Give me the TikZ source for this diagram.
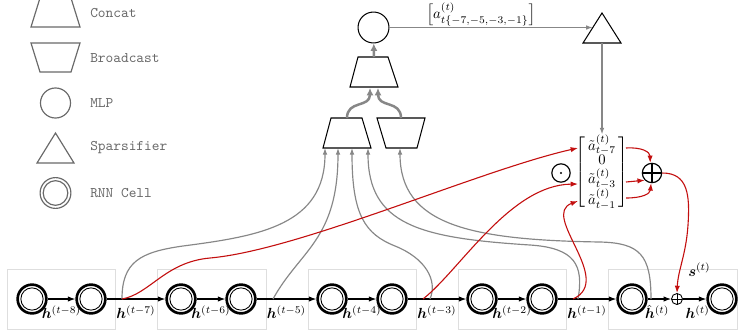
\documentclass[tikz,border=0pt]{standalone}
\usepackage{amsmath,bm,graphicx}
\usetikzlibrary{arrows.meta}
\definecolor{lgray}{RGB}{135,135,135}
\definecolor{leggray}{RGB}{105,105,105}
\definecolor{boxgray}{RGB}{222,222,222}
\definecolor{redc}{RGB}{195,15,15}
\newcommand{\sqbl}{\scalebox{1}[0.82]{$\Big[$}}
\newcommand{\sqbr}{\scalebox{1}[0.82]{$\Big]$}}
\begin{document}
\begin{tikzpicture}[x=0.682pt,y=-0.682pt,
  cell/.style={circle,draw,line width=1.8pt,minimum size=19.6pt,inner sep=0pt,
    path picture={\draw[line width=0.6pt] (path picture bounding box.center) circle (7.6pt);}},
  rowarr/.style={draw,line width=0.7pt,-{Latex[length=5pt,width=3.6pt]}},
  hl/.style={anchor=base,yshift=-13.6pt,inner sep=0pt},
  garr/.style={draw=lgray,line width=0.8pt,-{Latex[length=4.5pt,width=3.2pt]}},
  tharr/.style={draw=lgray,line width=1.7pt,-{Latex[length=5pt,width=4.8pt]}},
  rarr/.style={draw=redc,line width=0.75pt,-{Latex[length=5pt,width=3.6pt]}},
  shp/.style={draw=black,line width=0.7pt},
  leg/.style={draw=leggray,line width=0.8pt},
  legtxt/.style={anchor=west,inner sep=0pt,text=leggray,font=\ttfamily},
  bx/.style={draw=boxgray,line width=0.6pt},
]
\useasboundingbox (0,0) rectangle (738,334);

% ---------------- legend
\draw[leg] (31,27) -- (80,27) -- (71,-2) -- (40,-2) -- cycle;
\node[legtxt] (lconcat) at (90,13) {Concat};
\draw[leg] (31,43) -- (80,43) -- (71,72) -- (40,72) -- cycle;
\node[legtxt] (lbroad) at (90,58) {Broadcast};
\node[leg,circle,minimum size=20.5pt,inner sep=0pt] (lmlp) at (55.5,103) {};
\node[legtxt] (lmlpt) at (90,103) {MLP};
\draw[leg] (55.5,133) -- (74,163) -- (37,163) -- cycle;
\node[legtxt] (lsp) at (90,148) {Sparsifier};
\node[leg,circle,minimum size=21pt,inner sep=0pt] (lrnn) at (55.5,193) {};
\draw[leg] (lrnn.center) circle (8.4pt);
\node[legtxt] (lrnnt) at (90,193) {RNN Cell};

% ---------------- boxes
\draw[bx] (7,269) rectangle (115,329);
\draw[bx] (157,269) rectangle (266,329);
\draw[bx] (308,269) rectangle (416,329);
\draw[bx] (458,269) rectangle (566,329);
\draw[bx] (608,269) rectangle (737,329);

% ---------------- cells
\node[cell] (c1) at (32,299) {};
\node[cell] (c2) at (91,299) {};
\node[cell] (c3) at (181,299) {};
\node[cell] (c4) at (241,299) {};
\node[cell] (c5) at (332,299) {};
\node[cell] (c6) at (392,299) {};
\node[cell] (c7) at (482,299) {};
\node[cell] (c8) at (542,299) {};
\node[cell] (c9) at (632,299) {};
\node[cell] (c10) at (722,299) {};
\node[circle,draw,line width=0.6pt,minimum size=7.5pt,inner sep=0pt,
  path picture={\draw[line width=0.5pt] (path picture bounding box.north) -- (path picture bounding box.south)
     (path picture bounding box.west) -- (path picture bounding box.east);}] (so) at (677,299) {};

\draw[rowarr] (c1) -- (c2) node[hl,midway]{$\bm h^{(t-8)}$};
\draw[rowarr] (c2) -- (c3) node[hl,midway]{$\bm h^{(t-7)}$};
\draw[rowarr] (c3) -- (c4) node[hl,midway]{$\bm h^{(t-6)}$};
\draw[rowarr] (c4) -- (c5) node[hl,midway]{$\bm h^{(t-5)}$};
\draw[rowarr] (c5) -- (c6) node[hl,midway]{$\bm h^{(t-4)}$};
\draw[rowarr] (c6) -- (c7) node[hl,midway]{$\bm h^{(t-3)}$};
\draw[rowarr] (c7) -- (c8) node[hl,midway]{$\bm h^{(t-2)}$};
\draw[rowarr] (c8) -- (c9) node[hl,midway]{$\bm h^{(t-1)}$};
\draw[rowarr] (c9) -- (so) node[hl,midway,xshift=-1.5pt]{$\hat{\bm h}^{(t)}$};
\draw[rowarr] (so) -- (c10) node[hl,midway,xshift=2pt]{$\bm h^{(t)}$};

% ---------------- top part
\node[shp,circle,minimum size=21.1pt,inner sep=0pt] (mlp) at (373.5,27.5) {};
\draw[shp] (602,13) -- (621,43) -- (583,43) -- cycle;
\coordinate (spin) at (592.7,27.5);
\coordinate (spout) at (602,43);
\draw[garr] (mlp) -- (spin) node[pos=0.45,anchor=center,yshift=8.9pt,inner sep=0pt]
  {$\sqbl a^{(t)}_{t\{-7,-5,-3,-1\}}\sqbr$};

% trapezoids
\draw[shp] (350,87) -- (398,87) -- (388,57) -- (358,57) -- cycle;
\draw[shp] (323,148) -- (371,148) -- (362,118) -- (331,118) -- cycle;
\draw[shp] (386,148) -- (417,148) -- (425,118) -- (377,118) -- cycle;
\coordinate (tc) at (374,57);
\coordinate (tl) at (370,88);
\coordinate (tr) at (378,88);
\coordinate (lc) at (347,118);
\coordinate (rc) at (401,118);
\draw[tharr] (tc) -- (mlp);
\draw[tharr] (lc) .. controls (347,100) and (370,108) .. (tl);
\draw[tharr] (rc) .. controls (401,100) and (378,108) .. (tr);

% matrix, odot, oplus
\node[inner sep=0pt] (mat) at (602,172)
 {$\renewcommand{\arraystretch}{0.72}\setlength{\arraycolsep}{2pt}\left[\begin{array}{c}\tilde a^{(t)}_{t-7}\\0\\\tilde a^{(t)}_{t-3}\\\tilde a^{(t)}_{t-1}\end{array}\right]$};
\node[circle,draw,line width=0.8pt,minimum size=12.5pt,inner sep=0pt,
  path picture={\fill (path picture bounding box.center) circle (0.8pt);}] (od) at (561,173) {};
\node[circle,draw,line width=0.8pt,minimum size=13.2pt,inner sep=0pt,
  path picture={\draw[line width=0.8pt] (path picture bounding box.north) -- (path picture bounding box.south)
     (path picture bounding box.west) -- (path picture bounding box.east);}] (bo) at (652,173) {};
\draw[garr] (spout) -- (mat.north);

% ---------------- junctions and inputs
\coordinate (j7) at (122,299);
\coordinate (j5) at (273,299);
\coordinate (j3g) at (430,299);
\coordinate (j3r) at (423,299);
\coordinate (j1g) at (578,299);
\coordinate (j1r) at (573,299);
\coordinate (jh) at (651,299);
\coordinate (i1) at (325,148);
\coordinate (i2) at (338,148);
\coordinate (i3) at (352,148);
\coordinate (i4) at (368,148);
\coordinate (i5) at (400,148);
\coordinate (m7) at (578,148);
\coordinate (m3) at (578,184);
\coordinate (m1) at (578,201);
\coordinate (r7) at (626,148);
\coordinate (r3) at (626,182);
\coordinate (r1) at (626,198);

% gray curves
\draw[garr] (j7) .. controls (122,262) and (140,252) .. (183,246) .. controls (260,236) and (325,225) .. (i1);
\draw[garr] (j5) .. controls (300,250) and (338,240) .. (i2);
\draw[garr] (j3g) .. controls (438,280) and (425,258) .. (395,246) .. controls (365,234) and (352,215) .. (i3);
\draw[garr] (j1g) .. controls (584,265) and (575,248) .. (530,245) .. controls (420,238) and (368,225) .. (i4);
\draw[garr] (jh) .. controls (651,255) and (640,243) .. (600,242) .. controls (470,240) and (400,225) .. (i5);

% red curves
\draw[rarr] (j7) .. controls (150,294) and (165,262) .. (210,258) .. controls (300,250) and (480,170) .. (m7);
\draw[rarr] (j3r) .. controls (460,270) and (510,185) .. (m3);
\draw[rarr] (j1r) .. controls (615,280) and (540,215) .. (m1);
\draw[rarr] (r7) .. controls (642,147) and (650,152) .. (bo.100);
\draw[rarr] (r3) -- (bo.225);
\draw[rarr] (r1) .. controls (642,198) and (650,194) .. (bo.265);
\draw[rarr] (bo.east) .. controls (688,173) and (690,195) .. (688,225) .. controls (686,255) and (678,270) .. (so.north);
\node[anchor=base west,inner sep=0pt] (slab) at (688,276) {$\bm s^{(t)}$};
\end{tikzpicture}
\end{document}
